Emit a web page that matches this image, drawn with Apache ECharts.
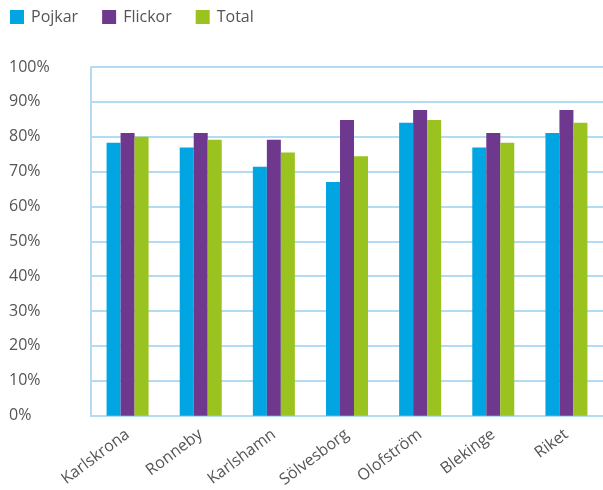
<!DOCTYPE html>
<html>
<head>
<meta charset="utf-8">
<script src="https://cdn.jsdelivr.net/npm/echarts@6/dist/echarts.min.js"></script>
<style>
  html, body { margin: 0; padding: 0; background: #fff; }
  #chart { width: 603px; height: 490px; }
</style>
</head>
<body>
<div id="chart"></div>
<script>
  // kategorier och värden (procent)
  const categories = ["Karlskrona", "Ronneby", "Karlshamn", "Sölvesborg", "Olofström", "Blekinge", "Riket"];
  const pojkar = [78.3, 76.9, 71.4, 67.0, 84.0, 76.9, 81.1];
  const flickor = [81.1, 81.1, 79.1, 84.8, 87.7, 81.1, 87.7];
  const total = [80.0, 79.1, 75.5, 74.4, 84.8, 78.3, 84.0];
  const seriesNames = ["Pojkar", "Flickor", "Total"];
  const colors = ["#00a5e1", "#6d388d", "#9ac31f"];

  const font = "'Open Sans', 'Noto Sans', sans-serif";
  const chart = echarts.init(document.getElementById("chart"), null, { renderer: "canvas" });

  const mkSeries = (name, data, i) => ({
    name: name,
    type: "bar",
    data: data,
    barWidth: 14,
    barGap: "0%",
    itemStyle: { color: colors[i] },
  });

  chart.setOption({
    animation: false,
    legend: {
      left: 5,
      top: 4,
      itemWidth: 14,
      itemHeight: 14,
      itemGap: 24,
      icon: "rect",
      textStyle: { color: "#555", fontSize: 16, fontFamily: font, padding: [0, 0, 0, 2] },
      data: seriesNames,
    },
    grid: {
      left: 91,
      right: 0,
      top: 67,
      bottom: 74,
    },
    xAxis: {
      type: "category",
      data: categories,
      axisLine: { show: true, lineStyle: { color: "#b3dcf2", width: 2 } },
      axisTick: { show: false },
      axisLabel: {
        rotate: 37,
        color: "#555",
        fontSize: 16,
        fontFamily: font,
        margin: 17,
        interval: 0,
      },
    },
    yAxis: {
      type: "value",
      min: 0,
      max: 100,
      interval: 10,
      axisLine: { show: true, lineStyle: { color: "#b3dcf2", width: 2 } },
      axisTick: { show: false },
      splitLine: { lineStyle: { color: "#b3dcf2", width: 2 } },
      axisLabel: {
        formatter: "{value}%",
        color: "#555",
        fontSize: 16,
        fontFamily: font,
        align: "left",
        margin: 82,
      },
    },
    series: [
      mkSeries(seriesNames[0], pojkar, 0),
      mkSeries(seriesNames[1], flickor, 1),
      mkSeries(seriesNames[2], total, 2),
    ],
  });
</script>
</body>
</html>
